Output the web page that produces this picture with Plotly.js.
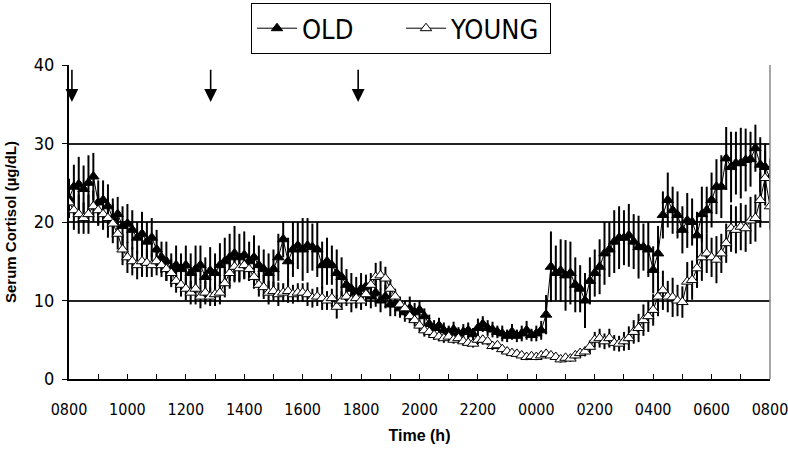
<!DOCTYPE html>
<html><head><meta charset="utf-8">
<script src="https://cdn.plot.ly/plotly-3.0.1.min.js"></script>
<style>html,body{margin:0;padding:0;background:#fff}#chart{width:788px;height:453px}</style>
</head><body><div id="chart"></div>
<script>
// Hours elapsed since 0800, one sample every 10 minutes
const sampleStepH = 1/6;
const oldMean = [
23.0,24.5,24.8,24.2,25.0,25.8,
22.5,22.8,22.0,20.5,21.0,19.5,
19.8,19.0,18.0,18.5,17.5,18.0,
16.5,15.5,15.0,14.0,14.5,14.0,
14.5,13.5,14.0,14.5,13.0,13.8,
13.5,14.5,15.0,15.5,16.0,15.5,
15.8,15.0,15.5,14.5,14.0,13.5,
14.0,15.5,17.8,15.0,16.5,17.0,
16.5,17.0,16.8,16.5,14.5,15.0,
14.5,13.5,13.0,12.0,11.5,11.0,
11.5,11.8,10.5,11.0,10.0,10.5,
9.5,9.5,9.0,8.5,9.0,8.5,
8.8,8.0,7.0,6.5,6.8,6.2,
6.0,6.3,5.8,6.0,6.2,5.7,
6.5,7.0,6.5,6.3,6.0,5.8,
5.5,6.0,5.5,5.8,6.2,5.6,
5.8,6.2,8.2,14.3,13.5,13.8,
13.2,13.5,12.0,11.5,10.0,12.5,
13.5,14.3,16.0,16.5,17.5,18.0,
18.0,18.3,17.5,16.8,16.8,16.5,
13.9,16.0,20.9,22.8,21.5,20.9,
19.0,20.2,20.0,18.3,21.0,21.5,
22.8,24.5,24.5,28.1,27.0,27.5,
27.5,27.9,28.0,29.4,27.3,27.0,
25.6];
const oldErr = [
2.5,2.8,3.5,3.0,3.5,3.0,
2.8,2.5,2.8,2.5,2.2,2.5,
2.5,2.5,2.0,2.8,2.5,2.5,
2.5,2.0,2.5,2.0,2.5,2.0,
2.5,2.5,3.0,2.5,2.5,3.0,
2.5,2.8,3.0,3.0,3.5,3.0,
3.0,2.5,2.8,2.5,2.5,2.5,
2.5,3.0,2.3,3.0,3.5,3.0,
4.0,3.5,3.0,3.5,3.0,3.0,
2.5,3.0,2.5,2.0,2.0,2.0,
2.0,1.5,1.5,1.8,1.5,1.5,
1.5,1.5,1.2,1.2,1.5,1.2,
1.2,1.0,1.2,1.0,1.0,1.0,
0.8,1.0,0.8,1.0,1.0,0.8,
1.2,1.0,1.0,1.0,0.8,1.0,
0.8,1.0,0.8,1.0,1.2,0.8,
1.0,1.2,2.5,4.5,3.5,4.0,
4.5,4.0,3.5,3.0,3.5,3.0,
3.0,3.5,4.0,3.5,4.0,4.0,
3.5,4.0,3.5,4.0,3.0,3.5,
3.0,3.5,3.0,3.5,3.0,3.0,
3.0,3.5,3.0,3.0,3.5,3.0,
3.5,3.5,4.0,4.0,4.5,4.0,
4.5,4.0,3.5,3.0,3.5,3.0,
2.5];
const youngMean = [
22.5,21.5,21.0,20.5,21.0,22.0,
21.5,21.0,20.5,19.8,18.5,16.5,
15.5,15.0,14.5,15.0,14.8,14.5,
15.0,14.5,14.0,13.5,12.5,12.0,
11.5,11.0,11.5,10.5,11.0,10.5,
10.8,11.0,12.2,13.5,14.3,14.1,
14.5,14.0,13.0,12.0,11.7,11.0,
11.2,10.8,11.0,11.2,10.8,11.0,
11.0,10.8,10.3,10.5,10.3,10.0,
10.3,9.2,10.0,10.5,10.0,10.3,
10.0,10.8,12.0,13.0,13.2,12.8,
11.5,10.5,9.5,9.0,8.0,7.5,
6.8,6.2,6.0,5.6,5.4,5.2,
5.4,5.0,5.2,4.8,4.6,4.5,
5.0,5.0,4.8,4.2,4.3,3.8,
3.5,3.3,3.2,3.0,2.8,2.9,
2.8,3.0,3.2,3.0,2.8,2.5,
2.7,2.6,3.0,3.3,3.5,4.1,
5.0,5.2,4.8,5.2,4.6,4.5,
4.8,5.2,6.0,6.5,7.5,8.0,
8.8,10.5,11.3,10.5,10.4,10.0,
9.8,12.4,12.6,14.1,15.5,16.0,
15.5,15.2,16.0,17.3,19.2,19.0,
19.4,19.2,20.2,20.5,22.8,25.6,
22.0];
const youngErr = [
2.0,2.5,2.5,2.0,2.5,2.0,
2.0,2.0,2.5,2.5,2.0,2.0,
2.0,1.8,1.8,2.0,1.8,1.5,
1.8,1.5,1.5,1.8,1.5,1.5,
1.5,1.5,2.0,1.5,1.5,1.2,
1.5,1.5,1.8,2.0,2.0,1.8,
1.8,1.5,1.5,1.5,1.5,1.5,
1.2,1.5,1.2,1.5,1.2,1.2,
1.2,1.5,1.2,1.2,1.5,1.2,
1.2,1.5,1.2,1.2,1.5,1.2,
1.2,1.5,1.5,1.8,1.8,1.5,
1.2,1.0,1.0,1.0,0.8,0.8,
0.8,0.8,0.6,0.6,0.6,0.6,
0.6,0.5,0.6,0.5,0.5,0.5,
0.6,0.6,0.5,0.5,0.5,0.5,
0.5,0.4,0.4,0.4,0.4,0.4,
0.4,0.4,0.5,0.4,0.4,0.4,
0.4,0.4,0.5,0.5,0.6,0.8,
1.0,1.2,1.0,1.2,1.0,1.0,
1.2,1.5,1.5,1.8,2.0,2.0,
2.0,2.5,2.5,2.0,2.5,2.0,
2.0,2.5,2.5,2.5,3.0,2.5,
2.5,3.0,2.5,2.5,3.0,3.0,
3.0,3.0,3.0,3.0,3.5,3.5,
3.0];
const tickHours = [0,1,2,3,4,5,6,7,8,9,10,11,12,13,14,15,16,17,18,19,20,21,22,23,24];
const tickText = ['0800','','1000','','1200','','1400','','1600','','1800','','2000','','2200','','0000','','0200','','0400','','0600','','0800'];
const mealHours = [0.1, 4.85, 9.9];

const hours = oldMean.map((_, i) => i * sampleStepH);
const FONT = '"DejaVu Sans Condensed", "Liberation Sans Narrow", "Liberation Sans", Arial, sans-serif';
const BOLD = '"Liberation Sans", Arial, sans-serif';

const traces = [
  {name:'OLD', x:hours, y:oldMean, type:'scatter', mode:'lines+markers',
   line:{color:'#000', width:1},
   marker:{symbol:'triangle-up', size:10, color:'#000', line:{color:'#000', width:1}},
   error_y:{type:'data', array:oldErr, visible:true, color:'#000', thickness:2, width:0}},
  {name:'YOUNG', x:hours, y:youngMean, type:'scatter', mode:'lines+markers',
   line:{color:'#000', width:1},
   marker:{symbol:'triangle-up', size:10, color:'#fff', line:{color:'#000', width:1}},
   error_y:{type:'data', array:youngErr, visible:true, color:'#000', thickness:2, width:0}}
];

const annotations = mealHours.map(h => ({
  x:h, y:35.3, ax:h, ay:39.6, xref:'x', yref:'y', axref:'x', ayref:'y',
  showarrow:true, arrowhead:2, arrowsize:1.6, arrowwidth:1.6, arrowcolor:'#000', text:''
}));

const layout = {
  width:788, height:453,
  margin:{l:69, r:18, t:65, b:74, pad:0, autoexpand:false},
  paper_bgcolor:'#fff', plot_bgcolor:'#fff',
  font:{family:FONT, color:'#000', size:17},
  showlegend:true,
  legend:{orientation:'h', x:0.4736, xanchor:'center', y:1.197, yanchor:'top',
    bordercolor:'#000', borderwidth:1, bgcolor:'#fff',
    font:{family:FONT, size:27, color:'#000'}, itemwidth:40,
    entrywidth:94, entrywidthmode:'pixels'},
  xaxis:{range:[0,24], tickmode:'array', tickvals:tickHours, ticktext:tickText,
    ticks:'inside', ticklen:5, tickwidth:1, tickcolor:'#000',
    showline:true, linecolor:'#000', linewidth:2, showgrid:false, zeroline:false,
    tickfont:{family:FONT, size:16}, ticklabelstandoff:15, ticklabeloverflow:'allow',
    title:{text:'Time (h)', font:{family:BOLD, size:16, weight:'bold'}, standoff:12}},
  yaxis:{range:[0,40], tickvals:[0,10,20,30,40], ticks:'outside', ticklen:5, tickwidth:1, tickcolor:'#000',
    showline:true, linecolor:'#000', linewidth:2, showgrid:true, gridcolor:'#222', gridwidth:2,
    zeroline:false, tickfont:{family:FONT, size:18}, ticklabelstandoff:4,
    title:{text:'Serum Cortisol (µg/dL)', font:{family:BOLD, size:15, weight:'bold'}, standoff:14}},
  shapes:[{type:'line', xref:'paper', yref:'paper', x0:1, x1:1, y0:0, y1:1, line:{color:'#888', width:1.5}}],
  annotations: annotations
};

Plotly.newPlot('chart', traces, layout, {displayModeBar:false, staticPlot:true});
</script></body></html>
